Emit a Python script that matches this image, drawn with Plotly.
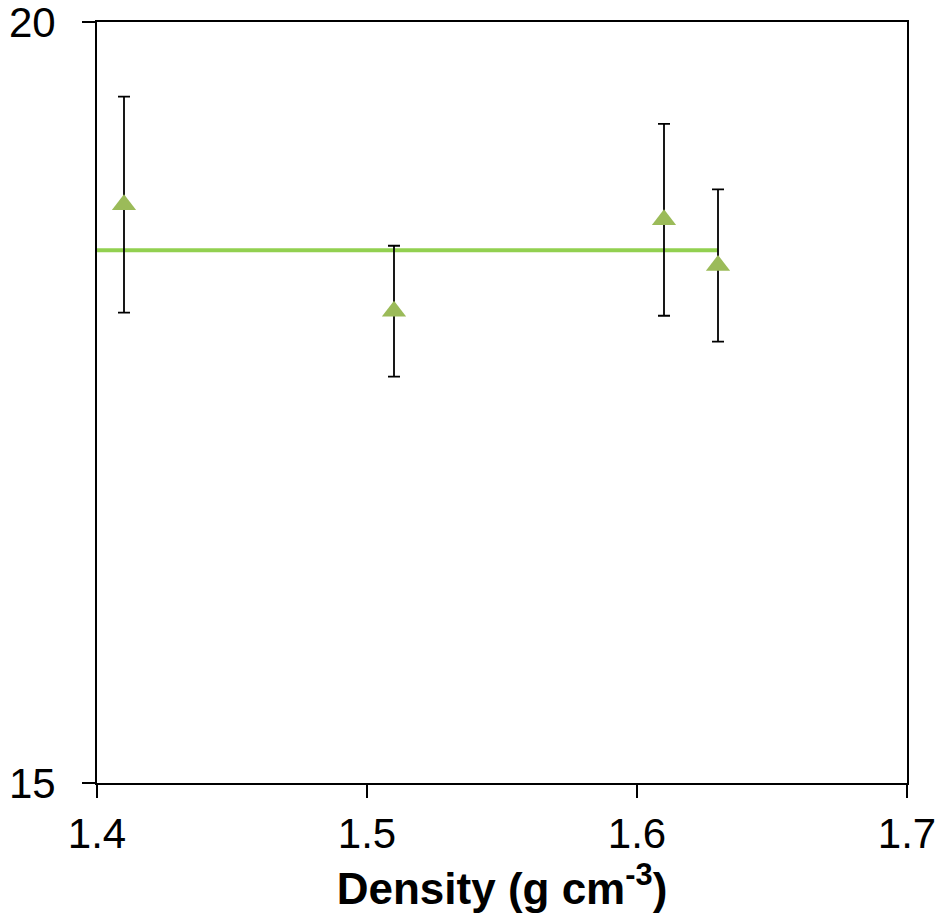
import plotly.graph_objects as go

# Measured data: density vs. value, with error bars
density = [1.41, 1.51, 1.61, 1.63]
values = [18.80, 18.10, 18.70, 18.40]
errors = [0.71, 0.43, 0.63, 0.50]

# Horizontal mean line
mean_x = [1.40, 1.63]
mean_y = [18.5, 18.5]

x_ticks = [1.4, 1.5, 1.6, 1.7]
y_ticks = [15, 20]

FONT = "Liberation Sans, Arial, sans-serif"

fig = go.Figure()

fig.add_trace(go.Scatter(
    x=mean_x, y=mean_y, mode="lines",
    line=dict(color="#92D050", width=4),
    showlegend=False, hoverinfo="skip",
))

fig.add_trace(go.Scatter(
    x=density, y=values, mode="markers",
    marker=dict(symbol="triangle-up", size=21, color="#9BBB59"),
    error_y=dict(type="data", array=errors, visible=True,
                 color="black", thickness=1.8, width=6),
    showlegend=False,
))

fig.update_layout(
    width=938, height=914,
    margin=dict(l=97, r=31, t=22, b=131),
    paper_bgcolor="white", plot_bgcolor="white",
    font=dict(family=FONT, size=42, color="black"),
    xaxis=dict(
        range=[1.4, 1.7], tickvals=x_ticks,
        ticktext=[f"{v:.1f}" for v in x_ticks],
        showgrid=False, zeroline=False, automargin=False,
        showline=True, linecolor="black", linewidth=2, mirror=True,
        ticks="outside", ticklen=13, tickwidth=2, tickcolor="black",
        tickfont=dict(size=42), ticklabeloverflow="allow",
        title=dict(text="<b>Density (g cm<sup>-3</sup>)</b>",
                   font=dict(size=44), standoff=10),
    ),
    yaxis=dict(
        range=[15, 20], tickvals=y_ticks,
        ticktext=[str(v) for v in y_ticks],
        showgrid=False, zeroline=False, automargin=False,
        showline=True, linecolor="black", linewidth=2, mirror=True,
        ticks="outside", ticklen=13, tickwidth=2, tickcolor="black",
        tickfont=dict(size=42), ticklabeloverflow="allow",
        ticklabelstandoff=18,
    ),
)

fig.write_html("out.html")
